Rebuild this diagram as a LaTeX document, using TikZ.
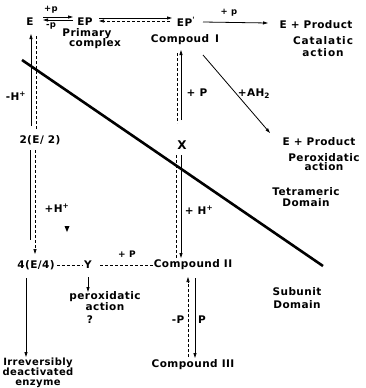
\documentclass[tikz,border=0pt]{standalone}
\usepackage{fontspec}
\setmainfont{DejaVu Sans}
\newfontfamily\lbl[LetterSpace=4]{DejaVu Sans}
\newfontfamily\lblw[LetterSpace=9]{DejaVu Sans}
\usetikzlibrary{arrows.meta}
\begin{document}
\begin{tikzpicture}[x=1pt,y=-1pt,
  lab/.style={font=\lbl\bfseries\fontsize{10.5}{11}\selectfont, inner sep=0pt, align=center},
  labsp/.style={font=\lbl\bfseries\fontsize{10.5}{#1}\selectfont, inner sep=0pt, align=center},
  sm/.style={font=\lbl\bfseries\fontsize{8.5}{8.5}\selectfont, inner sep=0pt},
  conn/.style={line width=0.8pt},
  dsh/.style={line width=0.7pt, dash pattern=on 3pt off 2pt},
  tip/.style={-{Triangle[length=5pt,width=3pt]}},
  thick line/.style={line width=2.6pt}
]
\useasboundingbox (0,0) rectangle (365,388);

% top row
\node[lab] (E) at (30,22) {E};
\node[sm] (pp1) at (51,10) {+p};
\node[sm] (mp1) at (51,26) {-p};
\node[lab] (EP) at (85,22) {EP};
\node[labsp=10] (prim) at (87,34) {Primary};
\node[labsp=10] (cplx) at (95,44) {complex};
\node[lab] (EPp) at (186,22) {EP\textsuperscript{'}};
\node[lab] (CI) at (185,40) {Compoud\hspace{6pt}I};
\node[sm] (pp2) at (229,13) {+ p};
\node[lab] (EPr1) at (316,25) {E + Product};
\node[font=\lblw\bfseries\fontsize{10.5}{12}\selectfont, inner sep=0pt, align=center] (cat) at (323,47) {Catalatic\\action};

\coordinate (a1s) at (43,17); \coordinate (a1e) at (73,17);
\coordinate (a2s) at (73,20); \coordinate (a2e) at (43,20);
\draw[conn,tip] (a1s) -- (a1e);
\draw[conn,tip] (a2s) -- (a2e);
\coordinate (b1s) at (99,18); \coordinate (b1e) at (172,18);
\coordinate (b2s) at (170,21); \coordinate (b2e) at (99,21);
\draw[conn,tip] (b1s) -- (b1e);
\draw[dsh,tip] (b2s) -- (b2e);
\coordinate (c1s) at (203,22); \coordinate (c1e) at (268,23);
\draw[conn,tip] (c1s) -- (c1e);

% left column
\node[lab] (mH) at (16,96) {-H\textsuperscript{+}};
\node[lab] (E2) at (40,140) {2(E/ 2)};
\node[lab] (pH) at (57,208) {+H\textsuperscript{+}};
\node[lab] (E4) at (36,265) {4(E/4)};
\node[lab] (Y) at (88,265) {Y};
\node[sm, font=\lbl\bfseries\fontsize{9}{9}\selectfont] (pP) at (127,254) {+ P};
\node[labsp=9] (perox1) at (105,301) {peroxidatic\\action};
\node[lab] (q) at (90,320) {?};
\node[labsp=10, font=\lbl\bfseries\fontsize{10}{10}\selectfont] (irr) at (38,373) {Irreversibly\\deactivated\\enzyme};

\coordinate (d1s) at (31,126); \coordinate (d1e) at (31,34);
\coordinate (d2s) at (36,36); \coordinate (d2e) at (36,130);
\coordinate (d3s) at (30,150); \coordinate (d3e) at (30,240);
\coordinate (d4s) at (35,150); \coordinate (d4e) at (35,254);
\draw[conn,tip] (d1s) -- (d1e);
\draw[dsh] (d2s) -- (d2e);
\draw[conn] (d3s) -- (d3e);
\draw[dsh,tip] (d4s) -- (d4e);
\fill (64.5,226) -- (69.5,226) -- (67,232) -- cycle;

\draw[dsh, shorten <=2pt, shorten >=2pt] (E4.east) -- (Y.west);
\coordinate (y1s) at (88,277); \coordinate (y1e) at (88,292);
\draw[conn,tip] (y1s) -- (y1e);
\coordinate (i1s) at (26,278); \coordinate (i1e) at (26,357);
\draw[conn,tip] (i1s) -- (i1e);

% middle column
\node[lab] (pP2) at (197,93) {+ P};
\node[lab, font=\lbl\bfseries\fontsize{12}{12}\selectfont] (X) at (182,145) {X};
\node[lab] (pH2) at (199,210) {+ H\textsuperscript{+}};
\node[lab] (CII) at (193,265) {Compound II};
\node[lab] (mP) at (178,320) {-P};
\node[lab] (P) at (202,320) {P};
\node[lab] (CIII) at (193,365) {Compound III};

\draw[dsh, shorten <=8pt, shorten >=1pt] (Y.east) -- (CII.west);

\coordinate (m1s) at (181,120); \coordinate (m1e) at (181,50);
\coordinate (m2s) at (177,53); \coordinate (m2e) at (177,123);
\coordinate (m3s) at (181,155); \coordinate (m3e) at (181,258);
\coordinate (m4s) at (176,155); \coordinate (m4e) at (176,258);
\draw[conn,tip] (m1s) -- (m1e);
\draw[dsh] (m2s) -- (m2e);
\draw[conn,tip] (m3s) -- (m3e);
\draw[dsh] (m4s) -- (m4e);
\coordinate (n1s) at (188,357); \coordinate (n1e) at (188,277);
\coordinate (n2s) at (195,278); \coordinate (n2e) at (195,358);
\draw[dsh,tip] (n1s) -- (n1e);
\draw[conn,tip] (n2s) -- (n2e);

% diagonal & right side
\node[lab] (AH) at (254,94) {+AH\textsubscript{2}};
\node[lab] (EPr2) at (319,142) {E + Product};
\node[labsp=9] (perox2) at (324,162) {Peroxidatic\\action};
\node[labsp=11] (tet) at (306,197) {Tetrameric\\Domain};
\node[labsp=13] (sub) at (297,298) {Subunit\\Domain};

\coordinate (g1s) at (203,55); \coordinate (g1e) at (270,133);
\draw[conn,tip] (g1s) -- (g1e);

\coordinate (t1) at (22,60); \coordinate (t2) at (323,266);
\draw[thick line] (t1) -- (t2);
\end{tikzpicture}
\end{document}
